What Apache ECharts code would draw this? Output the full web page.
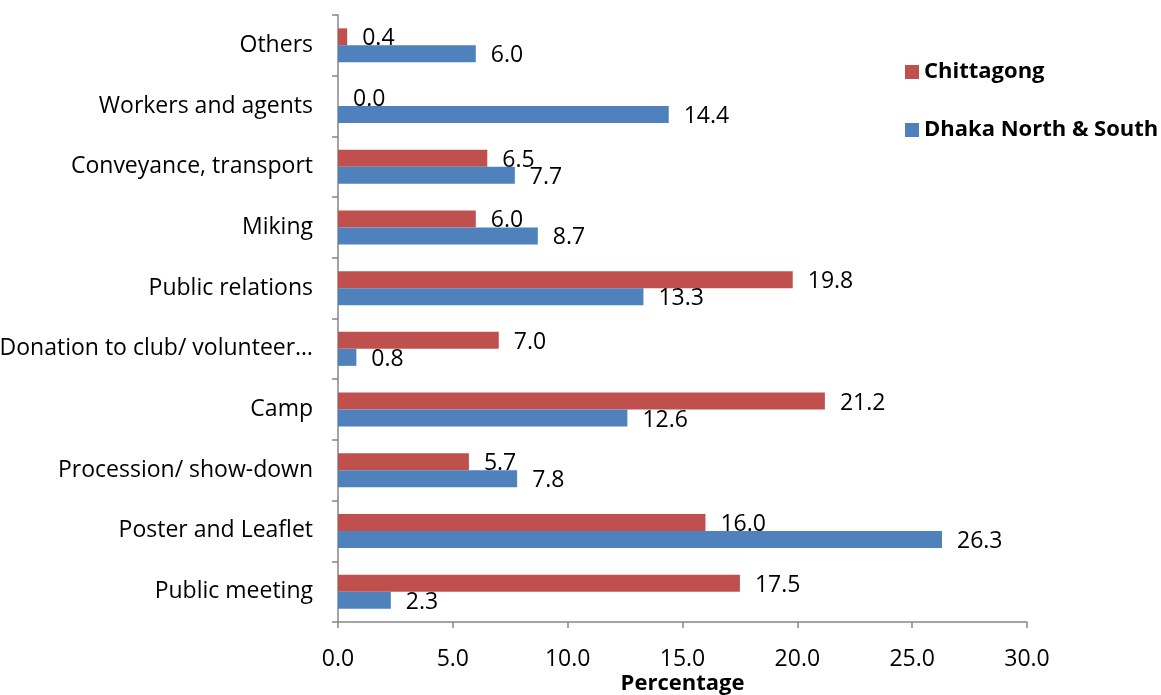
<!DOCTYPE html>
<html>
<head>
<meta charset="utf-8">
<script src="https://cdn.jsdelivr.net/npm/echarts@6/dist/echarts.min.js"></script>
<style>
  html, body { margin: 0; padding: 0; background: #fff; }
  #chart { width: 1161px; height: 695px; }
</style>
</head>
<body>
<div id="chart"></div>
<script>
// categories listed bottom to top (category axis starts at the bottom)
var categories = [
  'Public meeting',
  'Poster and Leaflet',
  'Procession/ show-down',
  'Camp',
  'Donation to club/ volunteer\u2026',
  'Public relations',
  'Miking',
  'Conveyance, transport',
  'Workers and agents',
  'Others'
]
var chittagong = [17.5, 16.0, 5.7, 21.2, 7.0, 19.8, 6.0, 6.5, 0.0, 0.4]
var dhaka = [2.3, 26.3, 7.8, 12.6, 0.8, 13.3, 8.7, 7.7, 14.4, 6.0]

var font = '"Open Sans", "Noto Sans", sans-serif'
var chart = echarts.init(document.getElementById('chart'), null, { renderer: 'canvas' })

function barLabel() {
  return {
    show: true,
    position: 'right',
    distance: 15,
    offset: [0, 2],
    color: '#000',
    fontFamily: font,
    fontSize: 23,
    formatter: function (p) { return p.value.toFixed(1) }
  }
}

chart.setOption({
  animation: false,
  textStyle: { fontFamily: font },
  grid: {
    left: 338,
    right: 134,
    top: 15,
    bottom: 73,
    containLabel: false,
    outerBoundsMode: 'none'
  },
  legend: {
    orient: 'vertical',
    left: 900,
    top: 56,
    itemWidth: 14,
    itemHeight: 14,
    itemGap: 36,
    icon: 'rect',
    textStyle: {
      fontFamily: font,
      fontSize: 22,
      fontWeight: 'bold',
      color: '#000'
    },
    data: ['Chittagong', 'Dhaka North & South']
  },
  xAxis: {
    type: 'value',
    min: 0,
    max: 30,
    interval: 5,
    name: 'Percentage',
    nameLocation: 'middle',
    nameGap: 51,
    nameMoveOverlap: false,
    nameTextStyle: {
      fontFamily: font,
      fontSize: 22,
      fontWeight: 'bold',
      color: '#000'
    },
    axisLine: { show: true, lineStyle: { color: '#868686', width: 1.5 } },
    axisTick: { show: true, length: 6, lineStyle: { color: '#868686', width: 1.5 } },
    splitLine: { show: false },
    axisLabel: {
      margin: 26,
      color: '#000',
      fontFamily: font,
      fontSize: 23,
      formatter: function (v) { return v.toFixed(1) }
    }
  },
  yAxis: {
    type: 'category',
    data: categories,
    axisLine: { show: true, lineStyle: { color: '#868686', width: 1.5 } },
    axisTick: { show: true, length: 6, lineStyle: { color: '#868686', width: 1.5 } },
    axisLabel: {
      margin: 25,
      color: '#000',
      fontFamily: font,
      fontSize: 23
    }
  },
  series: [
    {
      name: 'Chittagong',
      type: 'bar',
      data: chittagong,
      barWidth: 17,
      barGap: '0%',
      itemStyle: { color: '#C0504D' },
      label: barLabel()
    },
    {
      name: 'Dhaka North & South',
      type: 'bar',
      data: dhaka,
      barWidth: 17,
      barGap: '0%',
      itemStyle: { color: '#4F81BD' },
      label: barLabel()
    }
  ]
})
</script>
</body>
</html>
